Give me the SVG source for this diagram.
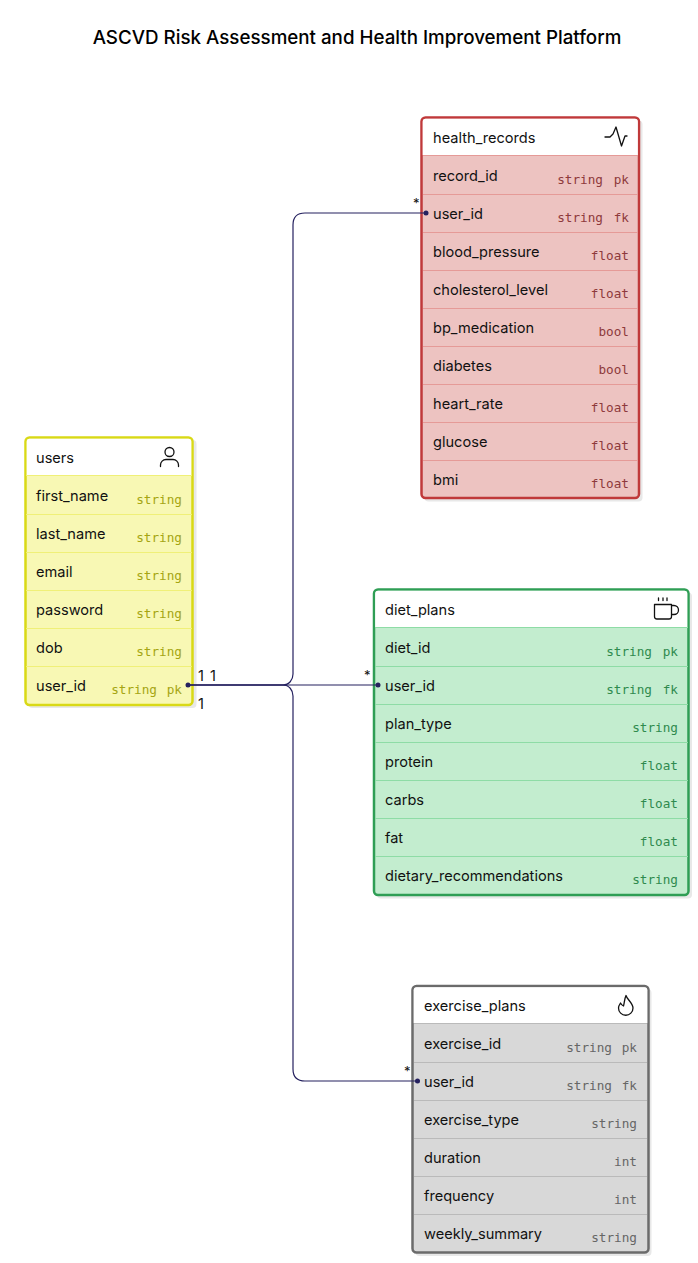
<svg xmlns="http://www.w3.org/2000/svg" width="698" height="1263" viewBox="0 0 698 1263">
<style>
text{font-family:Inter,"Liberation Sans",sans-serif;font-size:14.6px;fill:#111}
.title{font-size:18.75px;font-weight:500;fill:#000}
.t{font-family:"DejaVu Sans Mono","Liberation Mono",monospace;font-size:12.7px;text-anchor:end}
.shadow{fill:#e8e8e8}
.ico{fill:none;stroke:#111;stroke-width:1.3;stroke-linecap:round;stroke-linejoin:round}
.conn{fill:none;stroke:#25215f;stroke-width:1.2}
.dot{fill:#25215f}
.lab{font-size:14.6px}
.star{font-size:13px}
.red .body{fill:#edc3c1;stroke:#c0393a}.red line{stroke:#e59a97}.red .t{fill:#8e3a3c}
.yel .body{fill:#f8f8b4;stroke:#d9d916}.yel line{stroke:#f0f078}.yel .t{fill:#a5a513}
.grn .body{fill:#c3edcf;stroke:#2f9e55}.grn line{stroke:#8edca6}.grn .t{fill:#2f8a4e}
.gry .body{fill:#d8d8d8;stroke:#6b6b6b}.gry line{stroke:#bababa}.gry .t{fill:#666}
.head{fill:#fff}
line{stroke-width:1}
</style>
<text class="title" x="357" y="44" text-anchor="middle">ASCVD Risk Assessment and Health Improvement Platform</text>

<g id="health_records" class="red">
<rect class="shadow" x="424.500" y="120.500" width="218" height="381" rx="4"/>
<rect class="body" x="421.500" y="117.500" width="217.500" height="380.500" rx="4" stroke-width="2.500"/>
<path class="head" d="M422.700 155V121.700a3 3 0 0 1 3-3H634.800a3 3 0 0 1 3 3V155Z"/>
<line x1="423" x2="638" y1="155.500" y2="155.500"/><line x1="423" x2="638" y1="194.500" y2="194.500"/><line x1="423" x2="638" y1="232.500" y2="232.500"/><line x1="423" x2="638" y1="270.500" y2="270.500"/><line x1="423" x2="638" y1="308.500" y2="308.500"/><line x1="423" x2="638" y1="346.500" y2="346.500"/><line x1="423" x2="638" y1="384.500" y2="384.500"/><line x1="423" x2="638" y1="422.500" y2="422.500"/><line x1="423" x2="638" y1="460.500" y2="460.500"/>
<text x="433" y="143">health_records</text>
<path class="ico" d="M605 137h5l3-3 3-7 5.500 19 3.500-10h2"/>
<text x="433" y="181">record_id</text><text class="t" x="603" y="184">string</text><text class="t" x="629" y="184">pk</text>
<text x="433" y="219">user_id</text><text class="t" x="603" y="222">string</text><text class="t" x="629" y="222">fk</text>
<text x="433" y="257">blood_pressure</text><text class="t" x="629" y="260">float</text>
<text x="433" y="295">cholesterol_level</text><text class="t" x="629" y="298">float</text>
<text x="433" y="333">bp_medication</text><text class="t" x="629" y="336">bool</text>
<text x="433" y="371">diabetes</text><text class="t" x="629" y="374">bool</text>
<text x="433" y="409">heart_rate</text><text class="t" x="629" y="412">float</text>
<text x="433" y="447">glucose</text><text class="t" x="629" y="450">float</text>
<text x="433" y="485">bmi</text><text class="t" x="629" y="488">float</text>
</g>

<g id="users" class="yel">
<rect class="shadow" x="28.500" y="440" width="168" height="268" rx="4"/>
<rect class="body" x="25.500" y="437.500" width="167" height="267.500" rx="4" stroke-width="2.500"/>
<path class="head" d="M26.700 475V441.700a3 3 0 0 1 3-3H188.300a3 3 0 0 1 3 3V475Z"/>
<line x1="26" x2="192" y1="475.500" y2="475.500"/><line x1="26" x2="192" y1="514.500" y2="514.500"/><line x1="26" x2="192" y1="552.500" y2="552.500"/><line x1="26" x2="192" y1="590.500" y2="590.500"/><line x1="26" x2="192" y1="628.500" y2="628.500"/><line x1="26" x2="192" y1="666.500" y2="666.500"/>
<text x="36" y="463">users</text>
<circle class="ico" cx="169.500" cy="452" r="4.500"/><path class="ico" d="M160.500 466.500v-1.500a5.500 5.500 0 0 1 5.500-5.500h7a5.500 5.500 0 0 1 5.500 5.500v1.500"/>
<text x="36" y="501">first_name</text><text class="t" x="182" y="504">string</text>
<text x="36" y="539">last_name</text><text class="t" x="182" y="542">string</text>
<text x="36" y="577">email</text><text class="t" x="182" y="580">string</text>
<text x="36" y="615">password</text><text class="t" x="182" y="618">string</text>
<text x="36" y="653">dob</text><text class="t" x="182" y="656">string</text>
<text x="36" y="691">user_id</text><text class="t" x="157" y="694">string</text><text class="t" x="182" y="694">pk</text>
</g>

<g id="diet_plans" class="grn">
<rect class="shadow" x="377" y="592.500" width="315" height="306" rx="4"/>
<rect class="body" x="374" y="589.500" width="314.500" height="305.500" rx="4" stroke-width="2.500"/>
<path class="head" d="M375.200 627V593.700a3 3 0 0 1 3-3H684.300a3 3 0 0 1 3 3V627Z"/>
<line x1="375" x2="688" y1="627.500" y2="627.500"/><line x1="375" x2="688" y1="666.500" y2="666.500"/><line x1="375" x2="688" y1="704.500" y2="704.500"/><line x1="375" x2="688" y1="742.500" y2="742.500"/><line x1="375" x2="688" y1="780.500" y2="780.500"/><line x1="375" x2="688" y1="818.500" y2="818.500"/><line x1="375" x2="688" y1="856.500" y2="856.500"/>
<text x="385" y="615">diet_plans</text>
<path class="ico" d="M654.500 604.500h17v12a2.500 2.500 0 0 1-2.500 2.500h-12a2.500 2.500 0 0 1-2.500-2.500ZM671.500 605.500h2.500a3.500 3.500 0 0 1 0 9h-2.500M658.500 598v2.500M663 598v2.500M667 598v2.500"/>
<text x="385" y="653">diet_id</text><text class="t" x="652" y="656">string</text><text class="t" x="678" y="656">pk</text>
<text x="385" y="691">user_id</text><text class="t" x="652" y="694">string</text><text class="t" x="678" y="694">fk</text>
<text x="385" y="729">plan_type</text><text class="t" x="678" y="732">string</text>
<text x="385" y="767">protein</text><text class="t" x="678" y="770">float</text>
<text x="385" y="805">carbs</text><text class="t" x="678" y="808">float</text>
<text x="385" y="843">fat</text><text class="t" x="678" y="846">float</text>
<text x="385" y="881">dietary_recommendations</text><text class="t" x="678" y="884">string</text>
</g>

<g id="exercise_plans" class="gry">
<rect class="shadow" x="415.500" y="989" width="236" height="267" rx="4"/>
<rect class="body" x="412.500" y="986" width="236" height="266.500" rx="4" stroke-width="2.500"/>
<path class="head" d="M413.700 1023V990.200a3 3 0 0 1 3-3H644.300a3 3 0 0 1 3 3V1023Z"/>
<line x1="414" x2="647" y1="1023.500" y2="1023.500"/><line x1="414" x2="647" y1="1062.500" y2="1062.500"/><line x1="414" x2="647" y1="1100.500" y2="1100.500"/><line x1="414" x2="647" y1="1138.500" y2="1138.500"/><line x1="414" x2="647" y1="1176.500" y2="1176.500"/><line x1="414" x2="647" y1="1214.500" y2="1214.500"/>
<text x="424" y="1011">exercise_plans</text>
<path class="ico" d="M626 995.500c1 4 7 7.500 7 12.500a7.200 7.200 0 0 1-14.500 0c0-2 1-3.500 2-5c.8 1.500 1.800 2.500 3 3c1-3 .8-7 2.500-10.500Z"/>
<text x="424" y="1049">exercise_id</text><text class="t" x="612" y="1052">string</text><text class="t" x="637" y="1052">pk</text>
<text x="424" y="1087">user_id</text><text class="t" x="612" y="1090">string</text><text class="t" x="637" y="1090">fk</text>
<text x="424" y="1125">exercise_type</text><text class="t" x="637" y="1128">string</text>
<text x="424" y="1163">duration</text><text class="t" x="637" y="1166">int</text>
<text x="424" y="1201">frequency</text><text class="t" x="637" y="1204">int</text>
<text x="424" y="1239">weekly_summary</text><text class="t" x="637" y="1242">string</text>
</g>

<g id="connectors">
<path class="conn" d="M187 685H283C289 685 293 680 293 674V225Q293 213 305 213H426"/>
<path class="conn" d="M187 685H378"/>
<path class="conn" d="M187 685H283C289 685 293 690 293 696V1069Q293 1081 305 1081H417"/>
<circle class="dot" cx="188" cy="685" r="2.500"/><circle class="dot" cx="426" cy="213" r="2.500"/><circle class="dot" cx="378" cy="685" r="2.500"/><circle class="dot" cx="417.500" cy="1081" r="2.500"/>
<text class="lab" x="198" y="681">1</text><text class="lab" x="210" y="681">1</text><text class="lab" x="198" y="709">1</text>
<text class="star" x="413" y="208">*</text><text class="star" x="364" y="680">*</text><text class="star" x="404" y="1076">*</text>
</g>
</svg>
